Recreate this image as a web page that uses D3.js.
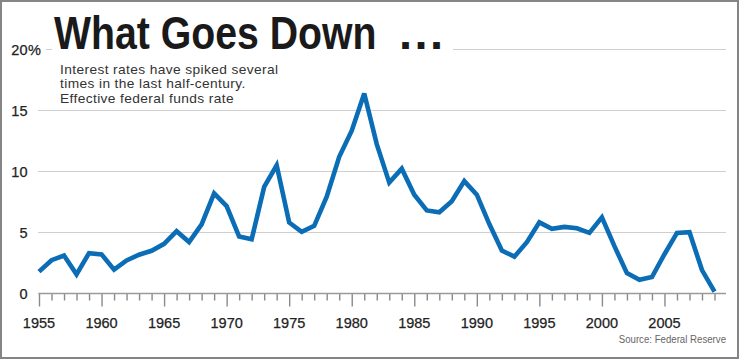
<!DOCTYPE html>
<html>
<head>
<meta charset="utf-8">
<script src="https://cdn.jsdelivr.net/npm/d3@7"></script>
<style>
  html, body { margin: 0; padding: 0; background: #fff; }
  svg { display: block; }
</style>
</head>
<body>
<svg id="chart" width="740" height="360"></svg>
<script>
// ---- data ----
const years = [1955,1956,1957,1958,1959,1960,1961,1962,1963,1964,1965,1966,1967,1968,1969,
  1970,1971,1972,1973,1974,1975,1976,1977,1978,1979,1980,1981,1982,1983,1984,1985,1986,1987,
  1988,1989,1990,1991,1992,1993,1994,1995,1996,1997,1998,1999,2000,2001,2002,2003,2004,2005,
  2006,2007,2008,2009];
const rates = [1.79,2.73,3.11,1.57,3.31,3.21,1.95,2.71,3.18,3.50,4.07,5.11,4.22,5.66,8.21,
  7.17,4.67,4.44,8.74,10.51,5.82,5.05,5.54,7.94,11.20,13.35,16.39,12.24,9.09,10.23,8.10,6.81,6.66,
  7.57,9.21,8.10,5.69,3.52,3.02,4.21,5.83,5.30,5.46,5.35,4.97,6.24,3.88,1.67,1.13,1.35,3.22,
  4.97,5.02,1.92,0.16];
const yTicks = [0, 5, 10, 15, 20];
const yTickLabels = ["0", "5", "10", "15", "20"];
const yUnit = "%";
const xMajorTicks = [1955,1960,1965,1970,1975,1980,1985,1990,1995,2000,2005];
const titleText = "What Goes Down";
const titleDots = "...";
const subtitleLines = ["Interest rates have spiked several", "times in the last half-century.", "Effective federal funds rate"];
const sourceText = "Source: Federal Reserve";

// ---- setup ----
const svg = d3.select("#chart");
const x = d3.scaleLinear().domain([1955, 2009]).range([39, 714.5]);
const y = d3.scaleLinear().domain([0, 20]).range([293.5, 49.5]);
const gridRight = 726;
const sans = "Liberation Sans, Arial, sans-serif";

// frame
svg.append("rect").attr("x", 1).attr("y", 1).attr("width", 737).attr("height", 357)
  .attr("fill", "#fff").attr("stroke", "#858585").attr("stroke-width", 2);

// gridlines
svg.append("g").selectAll("line").data(yTicks.filter(d => d > 0)).join("line")
  .attr("x1", d => d === 20 ? 46 : 38).attr("x2", gridRight)
  .attr("y1", d => y(d)).attr("y2", d => y(d))
  .attr("stroke", "#cfcfcf").attr("stroke-width", 1.2);

// y labels (numbers right-aligned, % hangs past)
svg.append("g").selectAll("text").data(yTicks).join("text")
  .attr("x", 27.5).attr("y", d => y(d) + 5.5)
  .attr("text-anchor", "end")
  .attr("font-family", sans).attr("font-size", 14.5).attr("fill", "#222")
  .attr("stroke", "#222").attr("stroke-width", 0.25)
  .text((d, i) => yTickLabels[i]);
svg.append("text").attr("x", 28).attr("y", y(20) + 5.5)
  .attr("font-family", sans).attr("font-size", 14.5).attr("fill", "#222")
  .attr("stroke", "#222").attr("stroke-width", 0.25)
  .text(yUnit);

// x axis with minor/major ticks
const allYears = d3.range(1955, 2010);
const xAxis = svg.append("g").attr("transform", `translate(0,${y(0)})`)
  .call(d3.axisBottom(x).tickValues(allYears).tickSize(6).tickFormat(""));
xAxis.select(".domain").remove();
xAxis.selectAll(".tick line").attr("stroke", "#8a8a8a").attr("stroke-width", 1.4)
  .attr("y2", d => xMajorTicks.includes(d) ? 13 : 7);
svg.append("line").attr("x1", x(1955) - 0.7).attr("x2", gridRight)
  .attr("y1", y(0)).attr("y2", y(0)).attr("stroke", "#9a9a9a").attr("stroke-width", 1.6);

svg.append("g").selectAll("text").data(xMajorTicks).join("text")
  .attr("x", d => x(d)).attr("y", 328)
  .attr("text-anchor", "middle")
  .attr("font-family", sans).attr("font-size", 14.5).attr("fill", "#222")
  .attr("stroke", "#222").attr("stroke-width", 0.25)
  .text(d => d);

// line
const line = d3.line().x((d, i) => x(years[i])).y(d => y(d));
svg.append("path").datum(rates)
  .attr("d", line).attr("fill", "none")
  .attr("stroke", "#0a6db5").attr("stroke-width", 4.6)
  .attr("stroke-linejoin", "miter").attr("stroke-miterlimit", 3)
  .attr("stroke-linecap", "butt");

// title with white backing
svg.append("rect").attr("x", 52).attr("y", 8).attr("width", 401).attr("height", 46).attr("fill", "#fff");
svg.append("g").attr("transform", "translate(54,49) scale(0.835,1)")
  .append("text")
  .attr("font-family", sans).attr("font-weight", "bold")
  .attr("font-size", 47).attr("fill", "#1a1a1a")
  .text(titleText);
svg.append("text").attr("x", 399).attr("y", 49)
  .attr("font-family", sans).attr("font-weight", "bold")
  .attr("font-size", 47).attr("letter-spacing", 2.5).attr("fill", "#1a1a1a")
  .text(titleDots);

// subtitle
svg.append("g").selectAll("g").data(subtitleLines).join("g")
  .attr("transform", (d, i) => `translate(60,${74 + i * 14.4}) scale(1.1,1)`)
  .append("text")
  .attr("font-family", sans).attr("letter-spacing", 0.35)
  .attr("font-size", 12.5).attr("fill", "#333")
  .text(d => d);

// source
svg.append("g").attr("transform", "translate(726,343) scale(0.84,1)")
  .append("text").attr("text-anchor", "end")
  .attr("font-family", sans).attr("font-size", 11.5).attr("fill", "#666")
  .text(sourceText);
</script>
</body>
</html>
